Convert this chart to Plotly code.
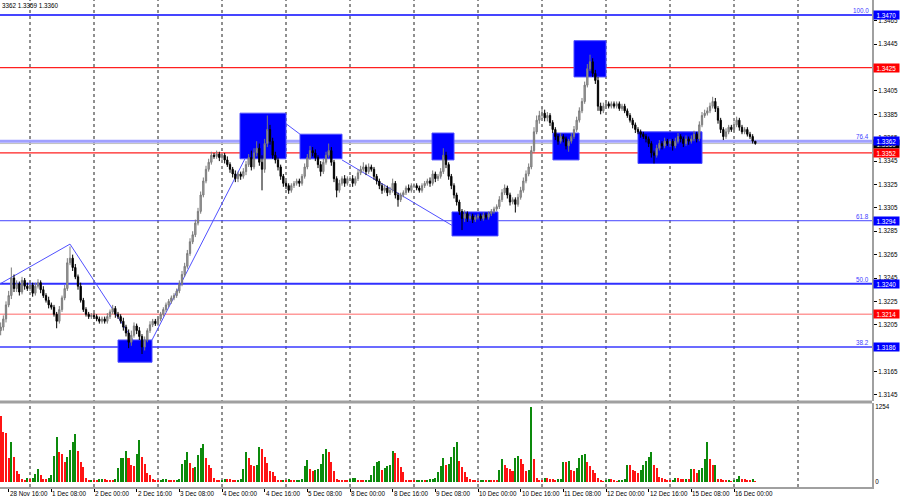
import plotly.graph_objects as go

# ---------------- DATA (prices in pips: 1 + p/10000) ----------------
first_open = 3200
close_28nov = [3203, 3210, 3222, 3230, 3245, 3236, 3240, 3233, 3243, 3238, 3236]
close_01dec = [3239, 3232, 3238, 3241, 3235, 3230, 3226, 3222, 3220, 3214, 3208, 3218,
               3228, 3236, 3258, 3262, 3254, 3246, 3238, 3226, 3218, 3214, 3212, 3213]
close_02dec = [3212, 3210, 3208, 3210, 3208, 3212, 3216, 3219, 3214, 3212, 3208, 3203,
               3198, 3190, 3196, 3204, 3200, 3195, 3186, 3192, 3200, 3205, 3208, 3206]
close_03dec = [3210, 3214, 3218, 3222, 3225, 3228, 3230, 3234, 3240, 3248, 3255, 3266,
               3276, 3282, 3292, 3302, 3316, 3328, 3338, 3344, 3350, 3349, 3351, 3348]
close_04dec = [3350, 3346, 3342, 3338, 3334, 3330, 3334, 3332, 3336, 3342, 3348, 3340,
               3352, 3356, 3344, 3338, 3360, 3372, 3362, 3350, 3346, 3340, 3332, 3326]
close_05dec = [3324, 3320, 3324, 3326, 3328, 3326, 3332, 3340, 3348, 3354, 3352, 3348,
               3342, 3336, 3344, 3350, 3354, 3344, 3330, 3320, 3326, 3330, 3326, 3330]
close_08dec = [3330, 3326, 3330, 3335, 3338, 3340, 3336, 3340, 3338, 3332, 3328, 3324,
               3320, 3322, 3318, 3320, 3326, 3316, 3312, 3316, 3318, 3322, 3320, 3324]
close_09dec = [3324, 3322, 3320, 3324, 3326, 3328, 3326, 3334, 3330, 3332, 3336, 3350,
               3342, 3332, 3324, 3316, 3310, 3302, 3296, 3300, 3296, 3298, 3295, 3297]
close_10dec = [3298, 3296, 3299, 3297, 3300, 3302, 3304, 3306, 3312, 3318, 3322, 3316,
               3310, 3312, 3308, 3314, 3320, 3328, 3334, 3340, 3354, 3370, 3380, 3384]
close_11dec = [3386, 3382, 3384, 3378, 3372, 3366, 3362, 3366, 3364, 3358, 3362, 3366,
               3372, 3380, 3388, 3396, 3410, 3424, 3430, 3420, 3414, 3392, 3388, 3392]
close_12dec = [3394, 3392, 3394, 3392, 3394, 3390, 3392, 3388, 3384, 3380, 3376, 3372,
               3370, 3368, 3366, 3364, 3360, 3352, 3350, 3356, 3360, 3358, 3362, 3360]
close_15dec = [3362, 3358, 3362, 3366, 3364, 3360, 3364, 3362, 3364, 3368, 3364, 3376,
               3384, 3386, 3388, 3392, 3396, 3390, 3380, 3372, 3366, 3370, 3374, 3372]
close_16dec = [3376, 3380, 3374, 3370, 3372, 3368, 3366, 3362, 3360]

# upper / lower wick lengths (pips)
upper_wicks = [
    [4, 3, 3, 4, 9, 3, 3, 2, 3, 2, 3],
    [3, 2, 3, 3, 2, 3, 2, 3, 2, 2, 2, 3, 2, 3, 4, 10, 3, 3, 2, 3, 2, 2, 2, 2],
    [2, 2, 2, 2, 2, 3, 2, 3, 2, 2, 2, 3, 2, 3, 4, 3, 2, 3, 2, 3, 2, 3, 2, 2],
    [2, 2, 2, 2, 2, 2, 2, 2, 3, 3, 3, 3, 3, 3, 3, 3, 3, 3, 3, 3, 3, 2, 3, 2],
    [2, 2, 3, 2, 2, 3, 2, 2, 3, 3, 3, 6, 4, 6, 4, 6, 4, 12, 4, 3, 3, 2, 2, 2],
    [2, 2, 2, 2, 2, 2, 2, 3, 3, 4, 3, 3, 2, 3, 3, 3, 6, 3, 2, 2, 3, 2, 3, 2],
    [2, 3, 2, 3, 3, 4, 2, 3, 2, 2, 2, 2, 2, 3, 2, 3, 4, 2, 2, 2, 2, 2, 3, 2],
    [2, 2, 2, 2, 2, 2, 3, 3, 2, 2, 3, 6, 3, 2, 2, 2, 2, 2, 2, 3, 2, 2, 2, 2],
    [2, 2, 2, 2, 2, 2, 2, 2, 3, 3, 3, 2, 2, 2, 2, 3, 3, 3, 3, 3, 4, 4, 4, 4],
    [5, 3, 3, 2, 2, 2, 2, 3, 2, 2, 2, 3, 3, 3, 3, 3, 3, 4, 6, 3, 3, 3, 3, 3],
    [3, 2, 2, 2, 2, 2, 2, 2, 2, 2, 2, 2, 2, 2, 2, 2, 2, 2, 2, 3, 3, 2, 3, 2],
    [2, 2, 3, 3, 2, 2, 3, 2, 3, 3, 2, 3, 3, 3, 3, 3, 4, 3, 2, 2, 2, 3, 2, 2],
    [3, 3, 2, 2, 2, 2, 2, 2, 0],
]
lower_wicks = [
    [4, 3, 3, 2, 3, 3, 3, 3, 2, 3, 2],
    [2, 3, 2, 2, 3, 2, 2, 3, 2, 2, 6, 2, 2, 2, 2, 2, 3, 2, 3, 2, 2, 2, 2, 2],
    [2, 2, 2, 2, 2, 2, 2, 2, 3, 2, 2, 3, 3, 5, 3, 2, 3, 3, 6, 3, 2, 2, 2, 2],
    [2, 2, 2, 2, 2, 2, 2, 2, 2, 2, 2, 2, 2, 2, 2, 2, 2, 2, 2, 2, 2, 2, 2, 3],
    [2, 3, 2, 3, 3, 3, 3, 3, 2, 3, 2, 3, 2, 3, 3, 18, 3, 3, 3, 3, 3, 3, 3, 3],
    [3, 3, 2, 2, 2, 3, 2, 2, 2, 2, 3, 3, 3, 4, 2, 2, 2, 3, 3, 6, 2, 2, 3, 2],
    [2, 3, 2, 2, 2, 2, 3, 2, 2, 3, 3, 3, 3, 2, 3, 2, 2, 3, 6, 2, 2, 2, 2, 2],
    [2, 2, 2, 2, 2, 2, 3, 2, 3, 2, 2, 2, 3, 3, 3, 3, 3, 3, 10, 3, 3, 2, 3, 2],
    [2, 2, 2, 2, 2, 2, 2, 2, 2, 2, 2, 3, 3, 2, 7, 2, 2, 2, 2, 2, 2, 2, 2, 3],
    [3, 3, 3, 3, 3, 3, 3, 2, 3, 3, 5, 2, 2, 2, 2, 2, 2, 2, 2, 3, 3, 4, 3, 2],
    [2, 2, 2, 2, 2, 2, 2, 2, 2, 2, 3, 3, 2, 3, 2, 3, 3, 4, 7, 2, 2, 3, 2, 2],
    [3, 4, 2, 2, 3, 3, 2, 3, 2, 2, 3, 2, 2, 2, 2, 2, 2, 3, 3, 3, 3, 2, 2, 2],
    [2, 2, 3, 2, 2, 2, 2, 2, 1],
]

volume_days = [
    [1107, 843, 815, 393, 663, 421, 180, 140, 56, 28, 67],
    [56, 73, 129, 225, 112, 45, 45, 67, 112, 433, 759, 495, 466, 337, 421, 534, 663, 798, 517, 337, 253, 73, 28, 39],
    [34, 28, 45, 56, 45, 39, 34, 28, 51, 242, 393, 405, 523, 393, 281, 270, 461, 702, 421, 298, 152, 124, 56, 28],
    [22, 34, 45, 56, 39, 22, 17, 34, 51, 298, 365, 495, 320, 242, 247, 450, 562, 635, 393, 281, 242, 67, 34, 22],
    [39, 45, 45, 45, 34, 17, 39, 56, 225, 495, 405, 281, 270, 292, 590, 545, 421, 320, 180, 169, 96, 39, 28, 34],
    [22, 51, 34, 17, 22, 39, 45, 264, 365, 225, 185, 208, 225, 309, 466, 545, 506, 337, 180, 45, 39, 34, 28, 22],
    [56, 62, 67, 39, 17, 17, 22, 28, 112, 264, 337, 348, 197, 242, 264, 281, 523, 489, 393, 253, 169, 39, 34, 17],
    [17, 28, 34, 39, 34, 39, 45, 56, 67, 169, 264, 393, 281, 309, 421, 579, 663, 354, 253, 169, 84, 45, 28, 17],
    [11, 28, 39, 17, 28, 28, 28, 28, 197, 377, 292, 242, 225, 180, 393, 433, 377, 298, 185, 197, 1254, 382, 73, 17],
    [17, 73, 67, 56, 56, 28, 45, 56, 326, 326, 348, 197, 185, 236, 405, 450, 461, 326, 264, 208, 152, 73, 28, 11],
    [28, 56, 56, 28, 11, 17, 39, 56, 292, 292, 197, 180, 157, 197, 281, 354, 421, 506, 281, 236, 84, 73, 56, 39],
    [17, 28, 73, 67, 56, 51, 56, 56, 219, 219, 152, 197, 242, 377, 663, 382, 281, 292, 56, 45, 28, 17, 39, 11],
    [28, 56, 96, 56, 51, 39, 34, 56, 11],
]

# time axis (bar index of label / of day separators)
time_labels = ["28 Nov 16:00", "1 Dec 08:00", "2 Dec 00:00", "2 Dec 16:00", "3 Dec 08:00",
               "4 Dec 00:00", "4 Dec 16:00", "5 Dec 08:00", "8 Dec 00:00", "8 Dec 16:00",
               "9 Dec 08:00", "10 Dec 00:00", "10 Dec 16:00", "11 Dec 08:00", "12 Dec 00:00",
               "12 Dec 16:00", "15 Dec 08:00", "16 Dec 00:00"]
time_label_bars = [3, 19, 35, 51, 67, 83, 99, 115, 131, 147, 163, 179, 195, 211, 227, 243, 259, 275]
day_separator_bars = [11, 35, 59, 83, 107, 131, 155, 179, 203, 227, 251, 275, 299]

price_ticks = ["1.3145", "1.3165", "1.3185", "1.3205", "1.3225", "1.3245", "1.3265", "1.3285",
               "1.3305", "1.3325", "1.3345", "1.3365", "1.3385", "1.3405", "1.3425", "1.3445", "1.3465"]

fibo_levels = [1.3470, 1.3362, 1.3294, 1.3240, 1.3186]
fibo_names = ["100.0", "76.4", "61.8", "50.0", "38.2"]
red_levels = [1.3425, 1.3352, 1.3214]
bid_level = 1.3360

# blue zones: (bar0, bar1, price_low, price_high)
zones = [(44.0, 56.75, 1.3173, 1.3192), (89.75, 107.0, 1.3347, 1.3386),
         (112.25, 128.0, 1.3347, 1.3368), (161.75, 170.0, 1.3346, 1.3369),
         (169.25, 186.5, 1.3281, 1.33015), (207.1, 216.9, 1.3346, 1.3369),
         (215.0, 227.0, 1.3417, 1.3448), (239.0, 263.0, 1.3343, 1.3370)]
# zigzag segments: [(bar, price), ...]
zigzag = [[(-0.25, 1.3240), (26.0, 1.3274), (49.6, 1.3192)],
          [(56.75, 1.3192), (91.6, 1.3347)],
          [(107.0, 1.3377), (112.25, 1.3368)],
          [(128.0, 1.3346), (169.25, 1.3290)]]

header_text = "3362 1.3359 1.3360"

# ---------------- BUILD ----------------
close_p = (close_28nov + close_01dec + close_02dec + close_03dec + close_04dec + close_05dec +
           close_08dec + close_09dec + close_10dec + close_11dec + close_12dec + close_15dec + close_16dec)
up_w = [w for d in upper_wicks for w in d]
lo_w = [w for d in lower_wicks for w in d]
vol = [v for d in volume_days for v in d]
n = len(close_p)
open_p = [first_open] + close_p[:-1]
open_p[-1] = 3362
high_p = [max(o, c) + u for o, c, u in zip(open_p, close_p, up_w)]
low_p = [min(o, c) - l for o, c, l in zip(open_p, close_p, lo_w)]
conv = lambda arr: [1 + p / 10000 for p in arr]
xs = list(range(n))

vcolors = ["#0c8a0c" if i > 0 and vol[i] > vol[i - 1] else "#ff1414" for i in range(len(vol))]

fig = go.Figure()
fig.add_trace(go.Candlestick(
    x=xs, open=conv(open_p), high=conv(high_p), low=conv(low_p), close=conv(close_p),
    increasing=dict(line=dict(color="#7a7a7a", width=1), fillcolor="#a8a8a8"),
    decreasing=dict(line=dict(color="#000000", width=1), fillcolor="#000000"),
    whiskerwidth=0, xaxis="x", yaxis="y", showlegend=False, hoverinfo="skip"))
fig.add_trace(go.Bar(x=xs[:len(vol)], y=vol, marker=dict(color=vcolors, line=dict(width=0)),
                     width=0.75, xaxis="x", yaxis="y2", showlegend=False, hoverinfo="skip"))

shapes = []
for b0, b1, p0, p1 in zones:
    shapes.append(dict(type="rect", xref="x", yref="y", x0=b0, x1=b1, y0=p0, y1=p1,
                       fillcolor="#0000ff", line=dict(color="#4d4dff", width=1), layer="below"))
for seg in zigzag:
    for (a, pa), (b, pb) in zip(seg[:-1], seg[1:]):
        shapes.append(dict(type="line", xref="x", yref="y", x0=a, x1=b, y0=pa, y1=pb,
                           line=dict(color="#5050ff", width=1), layer="below"))
for d in day_separator_bars:
    shapes.append(dict(type="line", xref="x", yref="paper", x0=d, x1=d, y0=0, y1=1,
                       line=dict(color="#202020", width=1, dash="3px,3px"), layer="below"))
fibo_styles = [("#4545ff", 2), ("#a0a0ff", 3), ("#4545ff", 1), ("#3030ff", 2), ("#3a3aff", 1.5)]
shapes.append(dict(type="line", xref="paper", yref="y", x0=0, x1=1, y0=bid_level, y1=bid_level,
                   line=dict(color="#c0c0c0", width=1), layer="below"))
for lv, (col, w) in zip(fibo_levels, fibo_styles):
    shapes.append(dict(type="line", xref="paper", yref="y", x0=0, x1=1, y0=lv, y1=lv,
                       line=dict(color=col, width=w), layer="below"))
red_styles = [("#ff2020", 1.2), ("#ff2020", 1.2), ("#ff9a9a", 1.5)]
for lv, (col, w) in zip(red_levels, red_styles):
    shapes.append(dict(type="line", xref="paper", yref="y", x0=0, x1=1, y0=lv, y1=lv,
                       line=dict(color=col, width=w), layer="below"))
# panel separator
shapes.append(dict(type="line", xref="paper", yref="paper", x0=0, x1=1, y0=0.1745, y1=0.1745,
                   line=dict(color="#a0a0a0", width=3)))

FONT = "Liberation Sans"
FS = 6.3
ann = []
for lab, b in zip(time_labels, time_label_bars):
    ann.append(dict(x=b, y=0, xref="x", yref="paper", text=lab, showarrow=False,
                    xanchor="left", yanchor="top", xshift=-1, yshift=-1,
                    font=dict(family=FONT, size=FS, color="#000")))
for lv, name in zip(fibo_levels, fibo_names):
    ann.append(dict(x=1, y=lv, xref="paper", yref="y", text=name, showarrow=False,
                    xanchor="right", yanchor="bottom", xshift=-1, yshift=-1,
                    font=dict(family=FONT, size=FS, color="#4040ff")))
# price boxes on axis
box_items = [(bid_level, "#000000"), (fibo_levels[0], "#0000ff"), (red_levels[0], "#ff0000"),
             (fibo_levels[1], "#0000ff"), (red_levels[1], "#ff0000"), (fibo_levels[2], "#0000ff"),
             (fibo_levels[3], "#0000ff"), (red_levels[2], "#ff0000"), (fibo_levels[4], "#0000ff")]
for lv, col in box_items:
    ann.append(dict(x=1, y=lv, xref="paper", yref="y", text="%.4f" % lv, showarrow=False,
                    xanchor="left", yanchor="middle", xshift=1, bgcolor=col, borderpad=0,
                    width=25, height=8, align="center",
                    font=dict(family=FONT, size=FS, color="#ffffff")))
ann.append(dict(x=0, y=1, xref="paper", yref="paper", text=header_text, showarrow=False,
                xanchor="left", yanchor="top", xshift=0, yshift=0,
                font=dict(family=FONT, size=FS, color="#000")))

fig.update_layout(
    width=900, height=500, margin=dict(l=0, r=28, t=0, b=13),
    paper_bgcolor="#ffffff", plot_bgcolor="#ffffff",
    shapes=shapes, annotations=ann, bargap=0,
    xaxis=dict(range=[-0.25, 326.75], anchor="y2", showgrid=False, zeroline=False,
               showline=True, linecolor="#a0a0a0", linewidth=2, rangeslider=dict(visible=False),
               tickvals=time_label_bars, ticktext=[""] * len(time_label_bars),
               ticks="outside", ticklen=3, tickcolor="#000"),
    yaxis=dict(domain=[0.1766, 1.0], range=[1.31398, 1.34828], side="right", showgrid=False,
               zeroline=False, showline=True, linecolor="#a0a0a0", linewidth=2,
               tickvals=[float(t) for t in price_ticks], ticktext=price_ticks,
               ticks="outside", ticklen=3, tickcolor="#000",
               tickfont=dict(family=FONT, size=FS, color="#000")),
    yaxis2=dict(domain=[0.0, 0.1725], range=[-84, 1321], side="right", showgrid=False,
                zeroline=False, showline=True, linecolor="#a0a0a0", linewidth=2,
                tickvals=[0, 1254], ticktext=["0", "1254"], ticks="",
                tickfont=dict(family=FONT, size=FS, color="#000"), anchor="x"),
)
fig.write_html("out.html", config={"displayModeBar": False},
               post_script="document.body.style.margin='0px';document.body.style.padding='0px';")
